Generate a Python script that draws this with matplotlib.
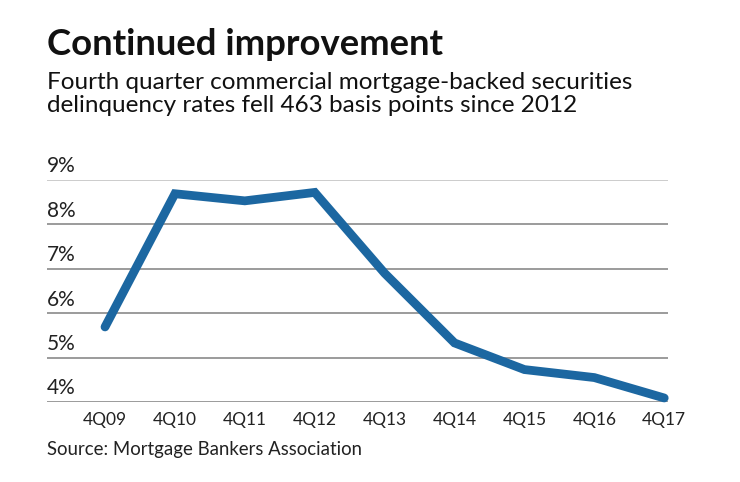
""" Line chart of fourth quarter CMBS delinquency rates.
"""

import numpy as np
from matplotlib import pyplot as plt

# ------------------------------------------------------------------------------
# Data.
# ------------------------------------------------------------------------------

quarters = ["4Q09", "4Q10", "4Q11", "4Q12", "4Q13", "4Q14", "4Q15", "4Q16", "4Q17"]
rates = [5.69, 8.69, 8.53, 8.72, 6.90, 5.33, 4.73, 4.55, 4.09]
y_ticks = [4, 5, 6, 7, 8, 9]

title = "Continued improvement"
subtitle = ("Fourth quarter commercial mortgage-backed securities\n"
            "delinquency rates fell 463 basis points since 2012")
source = "Source: Mortgage Bankers Association"

# ------------------------------------------------------------------------------
# Plot.
# ------------------------------------------------------------------------------

plt.rcParams['font.family'] = ['Lato', 'DejaVu Sans']

fig = plt.figure(figsize=(7.4, 4.82), dpi=100)
ax = fig.add_axes([0.0635, 0.166, 0.8395, 0.4606])

x = np.arange(len(quarters))
ax.plot(x, rates, color="#1c67a1", linewidth=6.3, solid_capstyle="round",
        solid_joinstyle="miter", clip_on=False, zorder=3)

# Gridlines: top one lighter.
for t in y_ticks:
    col = "#c4c4c4" if t == y_ticks[-1] else "#8a8a8a"
    ax.axhline(t, color=col, linewidth=1.2, zorder=1)
    ax.text(-0.83, t + 0.08, f"{t}%", fontsize=15, color="#222222",
            ha="left", va="bottom")

ax.set_xlim(-0.83, 8.057)
ax.set_ylim(4, 9)
ax.set_yticks([])
ax.set_xticks(x)
ax.set_xticklabels(quarters, fontsize=12.5, color="#222222")
ax.tick_params(axis="x", length=0, pad=7)
for s in ax.spines.values():
    s.set_visible(False)

fig.text(0.0635, 0.886, title, fontsize=26.3, fontweight="bold", color="#111111",
         ha="left", va="baseline")
fig.text(0.0635, 0.768, subtitle, fontsize=17.5, color="#111111",
         ha="left", va="baseline", linespacing=1.13)
fig.text(0.0635, 0.056, source, fontsize=13.4, color="#222222",
         ha="left", va="baseline")

fig.savefig("out.png", dpi=100)
